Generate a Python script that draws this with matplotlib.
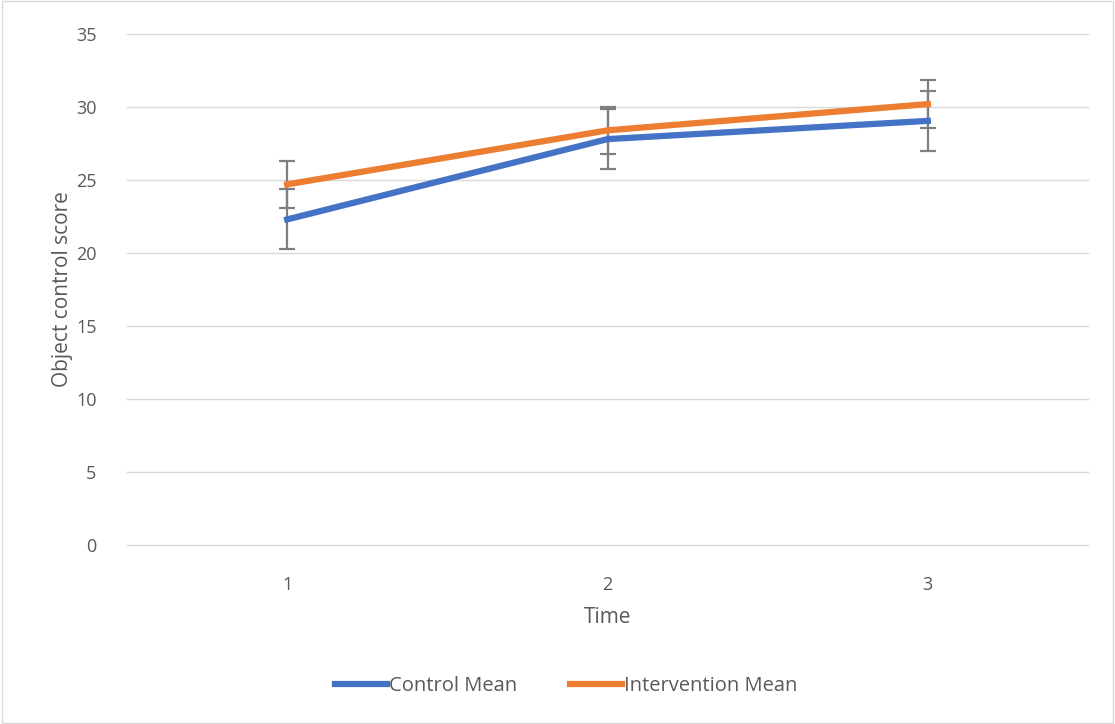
import matplotlib.pyplot as plt
from matplotlib.patches import Rectangle

plt.rcParams['font.family'] = ['Open Sans', 'DejaVu Sans']

time = [1, 2, 3]
control_mean = [22.3, 27.8, 29.05]
control_err = [2.05, 2.05, 2.05]
interv_mean = [24.7, 28.4, 30.2]
interv_err = [1.6, 1.6, 1.65]

blue = '#4472C4'
orange = '#ED7D31'
grey = '#595959'

fig = plt.figure(figsize=(11.15, 7.24), dpi=100)
ax = fig.add_axes([127/1115, 1 - 545/724, (1088 - 127)/1115, (545 - 34)/724])

ax.errorbar(time, control_mean, yerr=control_err, color=blue, lw=4.5,
            ecolor='#7f7f7f', elinewidth=1.6, capsize=6, capthick=1.6,
            label='Control Mean', zorder=3)
ax.errorbar(time, interv_mean, yerr=interv_err, color=orange, lw=4.5,
            ecolor='#7f7f7f', elinewidth=1.6, capsize=6, capthick=1.6,
            label='Intervention Mean', zorder=3)

ax.set_xlim(0.5, 3.5)
ax.set_ylim(0, 35)
ax.set_yticks(range(0, 36, 5))
ax.set_xticks(time)
ax.grid(axis='y', color='#d9d9d9', lw=1)
for g in ax.get_ygridlines():
    g.set_clip_on(False)
ax.set_axisbelow(True)
for s in ax.spines.values():
    s.set_visible(False)
ax.tick_params(length=0, labelsize=13, labelcolor=grey)
ax.tick_params(axis='y', pad=22)
ax.tick_params(axis='x', pad=22)
ax.set_xlabel('Time', fontsize=15, color=grey, labelpad=10)
ax.set_ylabel('Object control score', fontsize=15, color=grey, labelpad=2)

h, l = ax.get_legend_handles_labels()
h = [x[0] for x in h]
fig.legend(h, l, loc='center', bbox_to_anchor=(566/1115, 1 - 686/724), ncol=2,
           frameon=False, fontsize=14.5, labelcolor=grey, handlelength=2.6,
           handletextpad=0.1, columnspacing=2.6)

fig.add_artist(Rectangle((0.002, 0.002), 0.996, 0.996, transform=fig.transFigure,
                         fill=False, edgecolor='#d9d9d9', lw=1))

fig.savefig('out.png', dpi=100)
